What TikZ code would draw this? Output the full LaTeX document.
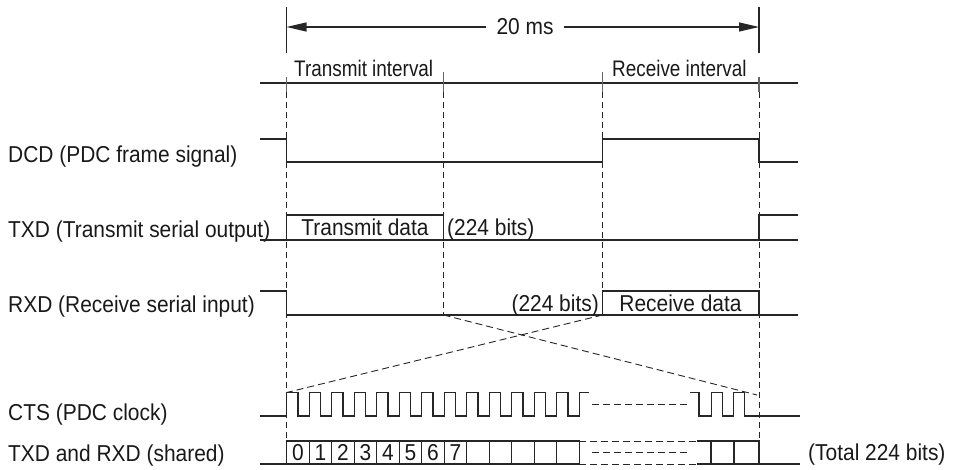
\documentclass[tikz,border=0pt]{standalone}
\usepackage{fontspec}
\newfontfamily\labfont{Liberation Sans}[FakeStretch=0.91]
\newfontfamily\topfont{Liberation Sans}[FakeStretch=0.84]
\usetikzlibrary{arrows.meta}
\begin{document}
\begin{tikzpicture}[x=1pt,y=-1pt,
  sig/.style={line width=1.2pt, draw=black!85, line join=miter},
  tick/.style={line width=1.2pt, draw=black!60},
  vdash/.style={line width=0.9pt, draw=black!85, dash pattern=on 6pt off 4pt},
  hdash/.style={line width=0.9pt, draw=black!85, dash pattern=on 7pt off 4pt},
  lab/.style={font=\labfont\fontsize{23}{27}\selectfont, inner sep=0pt, text=black!90},
  toplab/.style={font=\topfont\fontsize{22.5}{27}\selectfont, inner sep=0pt, text=black!90},
  arr/.style={line width=1.2pt, draw=black!85, -{Triangle[length=20pt,width=9pt]}}
]
\useasboundingbox (0,0) rectangle (957,470);

% key time coordinates
\coordinate (aL) at (286.5,27);
\coordinate (aR) at (759,27);

% 20 ms arrow
\draw[sig] (286.5,7) -- (286.5,53);
\draw[sig] (759,7) -- (759,53);
\node[lab, anchor=base] (ms) at (525,34.5) {20 ms};
\draw[arr] ([xshift=-10pt]ms.west |- aL) -- (aL);
\draw[arr] ([xshift=10pt]ms.east |- aR) -- (aR);

% interval line
\draw[sig] (260,83) -- (798,83);
\node[toplab, anchor=base west] (ti) at (294,77) {Transmit interval};
\node[toplab, anchor=base west] (ri) at (612,77) {Receive interval};
\draw[tick] (286.5,77) -- (286.5,92);
\draw[tick] (443.5,72) -- (443.5,92);
\draw[tick] (602.5,72) -- (602.5,92);
\draw[tick] (759,77) -- (759,92);

% vertical dashed guides
\draw[vdash] (286.5,92) -- (286.5,440);
\draw[vdash] (759,92) -- (759,440);
\draw[vdash] (443.5,92) -- (443.5,315);
\draw[vdash] (602.5,92) -- (602.5,315);

% left labels
\node[lab, anchor=base west] (ldcd) at (8,163) {DCD (PDC frame signal)};
\node[lab, anchor=base west] (ltxd) at (8,237) {TXD (Transmit serial output)};
\node[lab, anchor=base west] (lrxd) at (8,312) {RXD (Receive serial input)};
\node[lab, anchor=base west] (lcts) at (8,420) {CTS (PDC clock)};
\node[lab, anchor=base west] (lsh) at (8,461) {TXD and RXD (shared)};

% DCD
\draw[sig] (260,139) -- (286.5,139) -- (286.5,162) -- (602.5,162) -- (602.5,139)
  -- (759,139) -- (759,162) -- (798,162);

% TXD
\draw[sig] (260,240) -- (798,240);
\draw[sig] (286.5,240) |- (443.5,215) -- (443.5,240);
\draw[sig] (759,240) |- (798,215);
\node[lab, anchor=base] (td) at (365,236) {Transmit data};
\node[lab, anchor=base west] (tb) at (447,236) {(224 bits)};

% RXD
\draw[sig] (260,291) -- (286.5,291) -- (286.5,315) -- (798,315);
\draw[sig] (602.5,315) |- (759,291) -- (759,315);
\node[lab, anchor=base] (rd) at (680.5,311) {Receive data};
\node[lab, anchor=base east] (rb) at (599,311) {(224 bits)};

% crossing dashed lines
\draw[hdash] (443.5,315) -- (757,395);
\draw[hdash] (602.5,315) -- (286.7,392.5);

% CTS clock
\draw[sig] (260,416) -- (286.7,416)
  \foreach \k in {0,...,12} { -- ++(0,-23.5) -- ++(11.25,0) -- ++(0,23.5) -- ++(11.25,0) }
  -- ++(0,-23.5) -- ++(10,0);
\draw[hdash] (592,404.5) -- (690,404.5);
\draw[sig] (690,392.5) -- (699,392.5) -- (699,416) -- (711.5,416) -- (711.5,392.5)
  -- (722.7,392.5) -- (722.7,416) -- (733.7,416) -- (733.7,392.5) -- (744.7,392.5)
  -- (744.7,416) -- (800,416);

% shared bit row
\draw[sig] (260,464) -- (286.7,464);
\foreach \i in {0,...,12} {
  \draw[sig] ({286.7+22.5*\i},441) rectangle ({286.7+22.5*(\i+1)},464);
}
\foreach \i in {0,...,7} {
  \node[lab, anchor=base] (b\i) at ({286.7+22.5*\i+11.25},460.5) {\i};
}
\draw[hdash] (579.2,441) -- (697,441);
\draw[hdash] (579.2,464) -- (697,464);
\draw[hdash] (592,452) -- (690,452);
\draw[sig] (697,441) -- (759,441) -- (759,464);
\draw[sig] (697,464) -- (800,464);
\draw[sig] (711,441) -- (711,464);
\draw[sig] (734,441) -- (734,464);
\node[lab, anchor=base west] (tot) at (808,460) {(Total 224 bits)};
\end{tikzpicture}
\end{document}
